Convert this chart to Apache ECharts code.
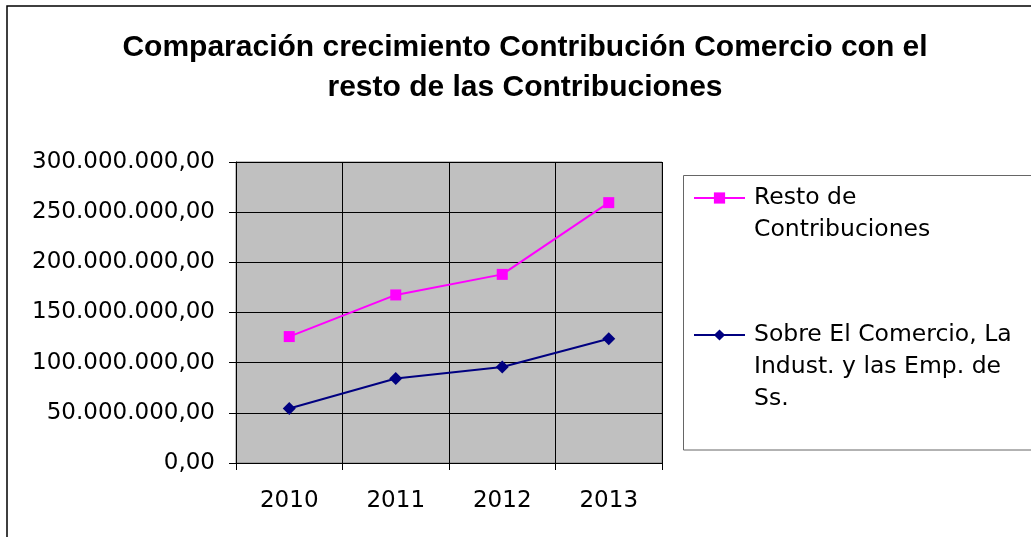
<!DOCTYPE html>
<html>
<head>
<meta charset="utf-8">
<title>Comparación crecimiento Contribución Comercio</title>
<script src="https://cdn.jsdelivr.net/npm/echarts@6/dist/echarts.min.js"></script>
<style>
  html, body { margin: 0; padding: 0; background: #fff; }
  #chart { width: 1031px; height: 537px; }
</style>
</head>
<body>
<div id="chart"></div>
<script>
const years = ['2010', '2011', '2012', '2013']
const resto = [126000000, 167500000, 188000000, 259500000]
const comercio = [54300000, 84300000, 95700000, 123800000]
const seriesNames = ['Resto de Contribuciones', 'Sobre El Comercio, La Indust. y las Emp. de Ss.']
const legendLabels = [['Resto de', 'Contribuciones'], ['Sobre El Comercio, La', 'Indust. y las Emp. de', 'Ss.']]
const titleText = 'Comparación crecimiento Contribución Comercio con el\nresto de las Contribuciones'

const chart = echarts.init(document.getElementById('chart'))

// 300000000 -> 300.000.000,00
const fmt = v => {
  const s = String(Math.round(v)).replace(/\B(?=(\d{3})+(?!\d))/g, '.')
  return s + ',00'
}

// legend text is centred on the icon, so pad with blank lines on top
// to keep the first line level with the marker
const legendText = name => {
  const lines = legendLabels[seriesNames.indexOf(name)]
  return new Array(lines.length).join('\n') + lines.join('\n')
}

const axisFont = { fontFamily: 'DejaVu Sans', fontSize: 23, color: '#000' }
const legendFont = { fontFamily: 'DejaVu Sans', fontSize: 23.5, lineHeight: 32, color: '#000', padding: [0, 0, 0, 4] }

const option = {
  backgroundColor: '#fff',
  animation: false,
  title: {
    text: titleText,
    left: 525,
    top: 28,
    textAlign: 'center',
    padding: 0,
    textStyle: {
      fontFamily: 'Liberation Sans',
      fontWeight: 'bold',
      fontSize: 30,
      lineHeight: 40,
      color: '#000'
    }
  },
  graphic: [
    {
      type: 'rect',
      shape: { x: 7, y: 6, width: 1100, height: 600 },
      style: { fill: 'none', stroke: '#000', lineWidth: 1.5 },
      silent: true
    },
    {
      type: 'rect',
      shape: { x: 683.5, y: 175.5, width: 400, height: 274.5 },
      style: { fill: '#fff', stroke: '#666', lineWidth: 1 },
      silent: true
    }
  ],
  legend: [
    {
      left: 693,
      top: 150,
      padding: 0,
      itemWidth: 51,
      itemHeight: 14,
      formatter: legendText,
      data: [seriesNames[0]],
      textStyle: legendFont
    },
    {
      left: 693,
      top: 255,
      padding: 0,
      itemWidth: 51,
      itemHeight: 14,
      formatter: legendText,
      data: [seriesNames[1]],
      textStyle: legendFont
    }
  ],
  grid: {
    left: 236,
    right: 369,
    top: 162,
    bottom: 74,
    show: true,
    backgroundColor: '#C0C0C0',
    borderColor: '#808080',
    borderWidth: 1
  },
  xAxis: {
    type: 'category',
    data: years,
    boundaryGap: true,
    axisLine: { lineStyle: { color: '#000', width: 1 } },
    axisTick: { show: true, length: 7, lineStyle: { color: '#000' } },
    axisLabel: Object.assign({ margin: 27 }, axisFont),
    splitLine: { show: true, lineStyle: { color: '#000', width: 1 } }
  },
  yAxis: {
    type: 'value',
    min: 0,
    max: 300000000,
    interval: 50000000,
    axisLine: { show: true, lineStyle: { color: '#000', width: 1 } },
    axisTick: { show: true, length: 7, lineStyle: { color: '#000' } },
    axisLabel: Object.assign({ margin: 21, formatter: fmt }, axisFont),
    splitLine: { show: true, lineStyle: { color: '#000', width: 1 } }
  },
  series: [
    {
      name: seriesNames[0],
      type: 'line',
      data: resto,
      symbol: 'rect',
      symbolSize: 11,
      itemStyle: { color: '#FF00FF' },
      lineStyle: { color: '#FF00FF', width: 2 }
    },
    {
      name: seriesNames[1],
      type: 'line',
      data: comercio,
      symbol: 'diamond',
      symbolSize: 13,
      itemStyle: { color: '#000080' },
      lineStyle: { color: '#000080', width: 2 }
    }
  ]
}

chart.setOption(option)
</script>
</body>
</html>
